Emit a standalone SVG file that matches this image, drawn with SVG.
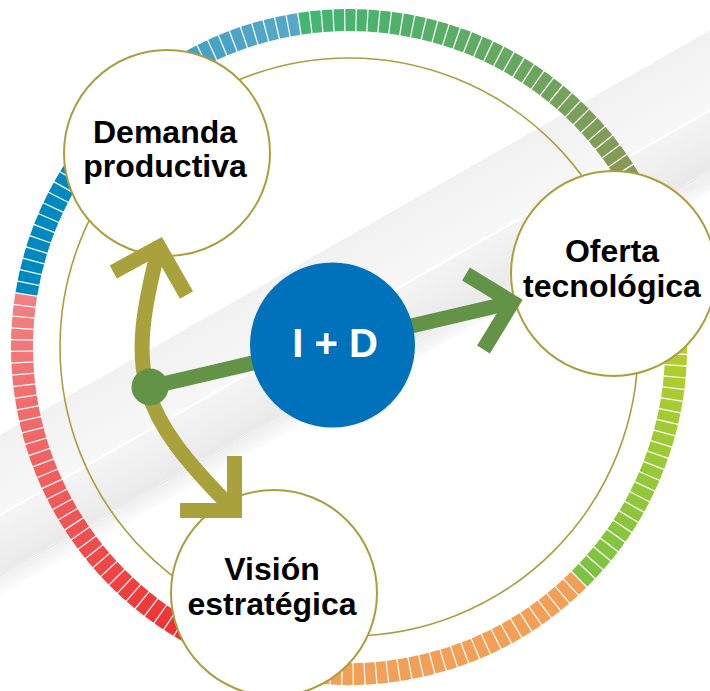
<svg xmlns="http://www.w3.org/2000/svg" width="710" height="691" viewBox="0 0 710 691">
<defs>
<linearGradient id="bgA" gradientUnits="userSpaceOnUse" x1="0" y1="435" x2="32" y2="491">
<stop offset="0" stop-color="#f1f1f1"/><stop offset="1" stop-color="#f7f7f7"/>
</linearGradient>
<linearGradient id="bgB" gradientUnits="userSpaceOnUse" x1="0" y1="515" x2="26" y2="560">
<stop offset="0" stop-color="#f5f5f5"/><stop offset="1" stop-color="#eaeaea"/>
</linearGradient>
<linearGradient id="bgC" gradientUnits="userSpaceOnUse" x1="0" y1="577" x2="9" y2="593">
<stop offset="0" stop-color="#efefef"/><stop offset="1" stop-color="#ffffff"/>
</linearGradient>
<linearGradient id="gGreen" gradientUnits="userSpaceOnUse" x1="299" y1="24" x2="650" y2="215">
<stop offset="0" stop-color="#42b673"/><stop offset="0.45" stop-color="#62aa63"/><stop offset="1" stop-color="#929451"/>
</linearGradient>
<linearGradient id="gYG" gradientUnits="userSpaceOnUse" x1="682" y1="330" x2="585" y2="575">
<stop offset="0" stop-color="#b8cf2b"/><stop offset="1" stop-color="#7cc243"/>
</linearGradient>
<linearGradient id="gRed" gradientUnits="userSpaceOnUse" x1="200" y1="650" x2="26" y2="294">
<stop offset="0" stop-color="#ee2a2c"/><stop offset="0.5" stop-color="#f05a5a"/><stop offset="1" stop-color="#f28181"/>
</linearGradient>
<linearGradient id="gLB" gradientUnits="userSpaceOnUse" x1="150" y1="90" x2="299" y2="24">
<stop offset="0" stop-color="#3a9dc4"/><stop offset="1" stop-color="#58a8c7"/>
</linearGradient>
<style>
.seg{fill:none;stroke-width:22;stroke-linecap:butt}
.node{fill:#ffffff;stroke:#ab9f3d;stroke-width:2}
.lbl{font-family:"Liberation Sans",Arial,Helvetica,sans-serif;font-weight:bold;font-size:32px;fill:#000000;text-anchor:middle}
.gold{fill:none;stroke:#a9a13b;stroke-width:15;stroke-linecap:butt;stroke-linejoin:miter;stroke-miterlimit:10}
.green{fill:none;stroke:#639346;stroke-width:15;stroke-linecap:butt;stroke-linejoin:miter;stroke-miterlimit:10}
</style>
</defs>
<rect width="710" height="691" fill="#ffffff"/>
<g id="background">
<polygon points="0,435 710,30.3 710,109.3 0,514" fill="url(#bgA)"/>
<polygon points="0,516 710,111.3 710,170.3 0,575" fill="url(#bgB)"/>
<polygon points="0,577 710,172.3 710,191.3 0,596" fill="url(#bgC)"/>
<line x1="0" y1="576" x2="710" y2="171.3" stroke="#dedede" stroke-width="1"/>
<line x1="0" y1="515" x2="710" y2="110.3" stroke="#ffffff" stroke-width="2"/>
</g>
<g id="ring">
<path class="seg" stroke="url(#gGreen)" d="M299.26,23.81 A327,327 0 0 1 672.19,297.26"/>
<path class="seg" stroke="url(#gYG)" d="M672.19,297.26 A327,327 0 0 1 579.21,579.23"/>
<path class="seg" stroke="#f2a057" d="M579.21,579.23 A327,327 0 0 1 252.03,659.29"/>
<path class="seg" stroke="url(#gRed)" d="M252.03,659.29 A327,327 0 0 1 26.25,294.44"/>
<path class="seg" stroke="#0089c0" d="M26.25,294.44 A327,327 0 0 1 118.79,114.77"/>
<path class="seg" stroke="url(#gLB)" d="M118.79,114.77 A327,327 0 0 1 299.26,23.81"/>
<circle cx="349" cy="347" r="327" fill="none" stroke="#ffffff" stroke-width="24" pathLength="360" stroke-dasharray="0.22 1.78" stroke-dashoffset="0.86"/>
</g>
<g id="guide">
<circle cx="349" cy="347" r="289" fill="none" stroke="#ab9f3d" stroke-width="1.6"/>
</g>
<g id="node-demanda">
<circle class="node" cx="167" cy="153" r="103"/>
<text class="lbl" x="165" y="143">Demanda</text>
<text class="lbl" x="165" y="177">productiva</text>
</g>
<g id="node-oferta">
<circle class="node" cx="613.5" cy="273.5" r="102.5"/>
<text class="lbl" x="612" y="262">Oferta</text>
<text class="lbl" x="612" y="297">tecnológica</text>
</g>
<g id="node-vision">
<circle class="node" cx="274" cy="593" r="103"/>
<text class="lbl" x="272" y="580">Visión</text>
<text class="lbl" x="272" y="615">estratégica</text>
</g>
<g id="connectors">
<path class="gold" d="M159,247 C126.5,373 135,411 234.5,510.5"/>
<polyline class="gold" points="113.3,272 159,247 186.5,295"/>
<polyline class="gold" points="234.5,456 234.5,510.5 180,510.5"/>
<line class="green" x1="150" y1="387" x2="512.3" y2="302.3"/>
<polyline class="green" points="466,274 512.3,302.3 483.5,349.5"/>
<circle cx="150" cy="387" r="18.5" fill="#639346"/>
</g>
<g id="node-id">
<circle cx="332.5" cy="345" r="82.5" fill="#0072bc"/>
<text x="335" y="357" font-family="Liberation Sans, Arial, sans-serif" font-weight="bold" font-size="40" fill="#ffffff" text-anchor="middle">I + D</text>
</g>
</svg>
